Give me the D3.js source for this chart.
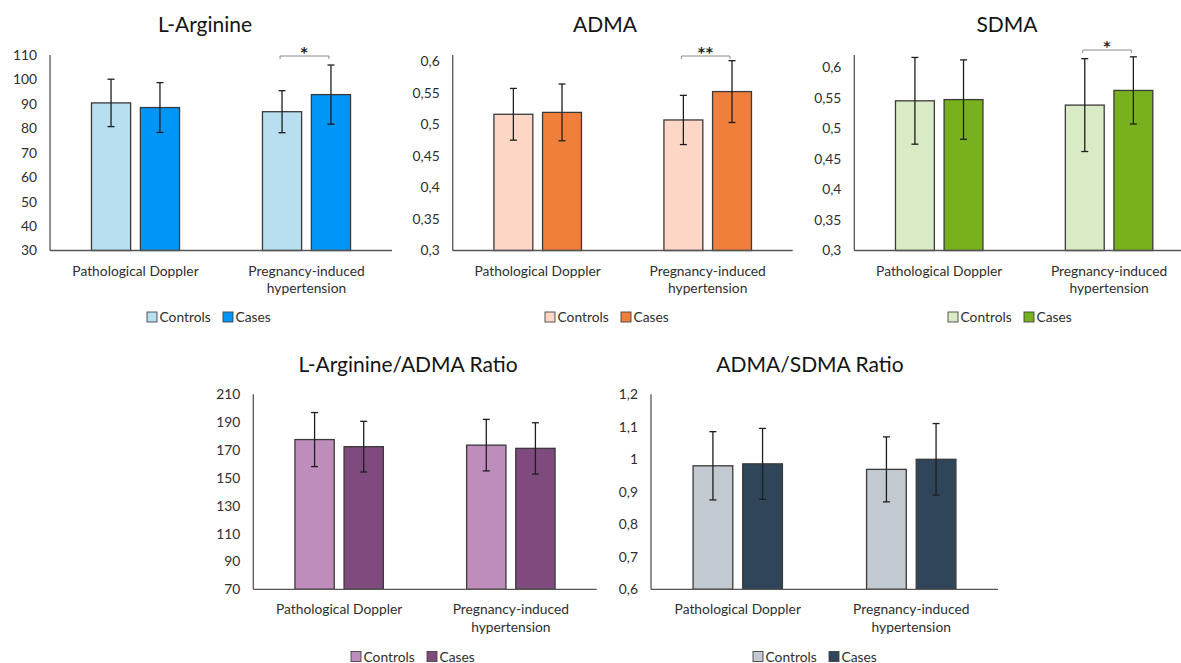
<!DOCTYPE html>
<html>
<head>
<meta charset="utf-8">
<script src="https://cdn.jsdelivr.net/npm/d3@7"></script>
<style>
  html, body { margin: 0; padding: 0; background: #ffffff; }
  svg { display: block; font-family: Lato, "Open Sans", sans-serif; }
</style>
</head>
<body>
<svg id="chart" width="1181" height="663"></svg>
<script>
// Groups and series shared by every panel
const groups = ["Pathological Doppler", "Pregnancy-induced hypertension"];
const groupLabelLines = [["Pathological Doppler"], ["Pregnancy-induced", "hypertension"]];
const seriesNames = ["Controls", "Cases"];

// L-Arginine (mean ± SD)
const lArgControls = [90.4, 86.8];
const lArgControlsSD = [9.7, 8.6];
const lArgCases = [88.5, 93.8];
const lArgCasesSD = [10.2, 12.1];
const lArgTicks = [30, 40, 50, 60, 70, 80, 90, 100, 110];

// ADMA
const admaControls = [0.516, 0.507];
const admaControlsSD = [0.041, 0.039];
const admaCases = [0.519, 0.552];
const admaCasesSD = [0.045, 0.049];
const admaTicks = [0.3, 0.35, 0.4, 0.45, 0.5, 0.55, 0.6];

// SDMA
const sdmaControls = [0.545, 0.538];
const sdmaControlsSD = [0.071, 0.076];
const sdmaCases = [0.547, 0.562];
const sdmaCasesSD = [0.065, 0.055];
const sdmaTicks = [0.3, 0.35, 0.4, 0.45, 0.5, 0.55, 0.6];

// L-Arginine/ADMA ratio
const argAdmaControls = [177.5, 173.5];
const argAdmaControlsSD = [19.4, 18.5];
const argAdmaCases = [172.4, 171.2];
const argAdmaCasesSD = [18.2, 18.4];
const argAdmaTicks = [70, 90, 110, 130, 150, 170, 190, 210];

// ADMA/SDMA ratio
const admaSdmaControls = [0.98, 0.969];
const admaSdmaControlsSD = [0.105, 0.10];
const admaSdmaCases = [0.986, 1.0];
const admaSdmaCasesSD = [0.109, 0.11];
const admaSdmaTicks = [0.6, 0.7, 0.8, 0.9, 1, 1.1, 1.2];

// Significance markers (group index and label)
const lArgSignif = [{ group: 1, label: "*" }];
const admaSignif = [{ group: 1, label: "**" }];
const sdmaSignif = [{ group: 1, label: "*" }];

const commaFormat = d => String(+d.toFixed(2)).replace(".", ",");

const panels = [
  { title: "L-Arginine", means: [lArgControls, lArgCases], sds: [lArgControlsSD, lArgCasesSD],
    domain: [30, 110], ticks: lArgTicks, fmt: d => String(d),
    colors: ["#b7dff0", "#0096f7"], signif: lArgSignif,
    x0: 50, x1: 392, yTop: 55, yBot: 250.5, titleX: 205, titleY: 32, legendX: 208, legendY: 317, bracketDy: 1 },
  { title: "ADMA", means: [admaControls, admaCases], sds: [admaControlsSD, admaCasesSD],
    domain: [0.3, 0.61], ticks: admaTicks, fmt: commaFormat,
    colors: ["#fdd6c6", "#f07f3c"], signif: admaSignif,
    x0: 452.7, x1: 792.7, yTop: 55, yBot: 250.5, titleX: 605, titleY: 32, legendX: 606, legendY: 317, bracketDy: 1 },
  { title: "SDMA", means: [sdmaControls, sdmaCases], sds: [sdmaControlsSD, sdmaCasesSD],
    domain: [0.3, 0.62], ticks: sdmaTicks, fmt: commaFormat,
    colors: ["#d9ebc4", "#79b11e"], signif: sdmaSignif,
    x0: 854.3, x1: 1194, yTop: 55, yBot: 250.5, titleX: 1007, titleY: 32, legendX: 1009, legendY: 317, bracketDy: -5 },
  { title: "L-Arginine/ADMA Ratio", means: [argAdmaControls, argAdmaCases], sds: [argAdmaControlsSD, argAdmaCasesSD],
    domain: [70, 210], ticks: argAdmaTicks, fmt: d => String(d),
    colors: ["#bf8dbb", "#7f4b7e"], signif: [],
    x0: 253.3, x1: 596.7, yTop: 394.3, yBot: 589.3, titleX: 408, titleY: 372, legendX: 412, legendY: 656.5, bracketDy: 0 },
  { title: "ADMA/SDMA Ratio", means: [admaSdmaControls, admaSdmaCases], sds: [admaSdmaControlsSD, admaSdmaCasesSD],
    domain: [0.6, 1.2], ticks: admaSdmaTicks, fmt: commaFormat,
    colors: ["#c2c9d0", "#2f465a"], signif: [],
    x0: 651, x1: 998, yTop: 394.3, yBot: 589.3, titleX: 810, titleY: 372, legendX: 814, legendY: 656.5, bracketDy: 0 }
];

const svg = d3.select("#chart");
const textColor = "#2e2e2e";

panels.forEach(p => {
  const g = svg.append("g");

  const y = d3.scaleLinear().domain(p.domain).range([p.yBot, p.yTop]);
  const xGroup = d3.scaleBand().domain(groups).range([p.x0, p.x1]).padding(0);
  const clusterW = xGroup.bandwidth() * 0.515;
  const xSeries = d3.scaleBand().domain(seriesNames).range([-clusterW / 2, clusterW / 2])
    .paddingInner(0.2).paddingOuter(0);

  // title
  g.append("text")
    .attr("x", p.titleX).attr("y", p.titleY)
    .attr("text-anchor", "middle")
    .attr("font-size", 21)
    .attr("fill", "#141414")
    .text(p.title);

  // y axis: tick labels only, plus a plain axis line
  const yAxis = d3.axisLeft(y).tickValues(p.ticks).tickFormat(p.fmt).tickSize(0).tickPadding(13);
  const ya = g.append("g").attr("transform", `translate(${p.x0},0)`).call(yAxis);
  ya.select(".domain").remove();
  ya.selectAll("text").attr("font-size", 13.8).attr("fill", textColor).attr("font-family", "Lato, sans-serif");

  // bars
  seriesNames.forEach((s, si) => {
    groups.forEach((grp, gi) => {
      const v = p.means[si][gi];
      const sd = p.sds[si][gi];
      const bx = xGroup(grp) + xGroup.bandwidth() / 2 + xSeries(s);
      const bw = xSeries.bandwidth();
      g.append("rect")
        .attr("x", bx).attr("y", y(v))
        .attr("width", bw).attr("height", y(p.domain[0]) - y(v))
        .attr("fill", p.colors[si])
        .attr("stroke", "#3a3a3a").attr("stroke-width", 1.3);
      // error bar
      const cx = bx + bw / 2;
      const eb = g.append("g").attr("stroke", "#1e1e1e").attr("stroke-width", 1.3);
      eb.append("line").attr("x1", cx).attr("x2", cx).attr("y1", y(v + sd)).attr("y2", y(v - sd));
      eb.append("line").attr("x1", cx - 3.5).attr("x2", cx + 3.5).attr("y1", y(v + sd)).attr("y2", y(v + sd));
      eb.append("line").attr("x1", cx - 3.5).attr("x2", cx + 3.5).attr("y1", y(v - sd)).attr("y2", y(v - sd));
    });
  });

  // axis lines
  g.append("line")
    .attr("x1", p.x0).attr("x2", p.x1)
    .attr("y1", p.yBot).attr("y2", p.yBot)
    .attr("stroke", "#555").attr("stroke-width", 1.3);
  g.append("line")
    .attr("x1", p.x0).attr("x2", p.x0)
    .attr("y1", p.yTop).attr("y2", p.yBot)
    .attr("stroke", "#555").attr("stroke-width", 1.3);

  // category labels
  groups.forEach((grp, gi) => {
    const cx = xGroup(grp) + xGroup.bandwidth() / 2;
    const t = g.append("text")
      .attr("x", cx).attr("y", p.yBot + 25)
      .attr("text-anchor", "middle")
      .attr("font-size", 13.8).attr("fill", textColor);
    groupLabelLines[gi].forEach((line, li) => {
      t.append("tspan").attr("x", cx).attr("dy", li === 0 ? 0 : 17.5).text(line);
    });
  });

  // significance brackets
  p.signif.forEach(sg => {
    const grp = groups[sg.group];
    const c = xGroup(grp) + xGroup.bandwidth() / 2;
    const xa = c + xSeries(seriesNames[0]) + xSeries.bandwidth() / 2 - 2;
    const xb = c + xSeries(seriesNames[1]) + xSeries.bandwidth() / 2 - 2;
    const by = p.yTop + p.bracketDy;
    g.append("path")
      .attr("d", `M${xa},${by + 3}V${by}H${xb}V${by + 3}`)
      .attr("fill", "none").attr("stroke", "#8a8a8a").attr("stroke-width", 1);
    g.append("text")
      .attr("x", (xa + xb) / 2).attr("y", by + 1)
      .attr("text-anchor", "middle")
      .attr("font-family", "'DejaVu Sans', sans-serif")
      .attr("font-size", 14).attr("font-weight", "bold").attr("fill", "#222")
      .attr("letter-spacing", 0.5)
      .text(sg.label);
  });

  // legend
  const legendItems = [
    { name: seriesNames[0], color: p.colors[0], dx: 0 },
    { name: seriesNames[1], color: p.colors[1], dx: 76 }
  ];
  const lg = g.append("g").attr("transform", `translate(${p.legendX - 61},${p.legendY})`);
  legendItems.forEach(it => {
    lg.append("rect")
      .attr("x", it.dx).attr("y", -5).attr("width", 10).attr("height", 10)
      .attr("fill", it.color).attr("stroke", "#444").attr("stroke-width", 0.9);
    lg.append("text")
      .attr("x", it.dx + 12.5).attr("y", 5)
      .attr("font-size", 13.8).attr("fill", textColor)
      .text(it.name);
  });
});
</script>
</body>
</html>
